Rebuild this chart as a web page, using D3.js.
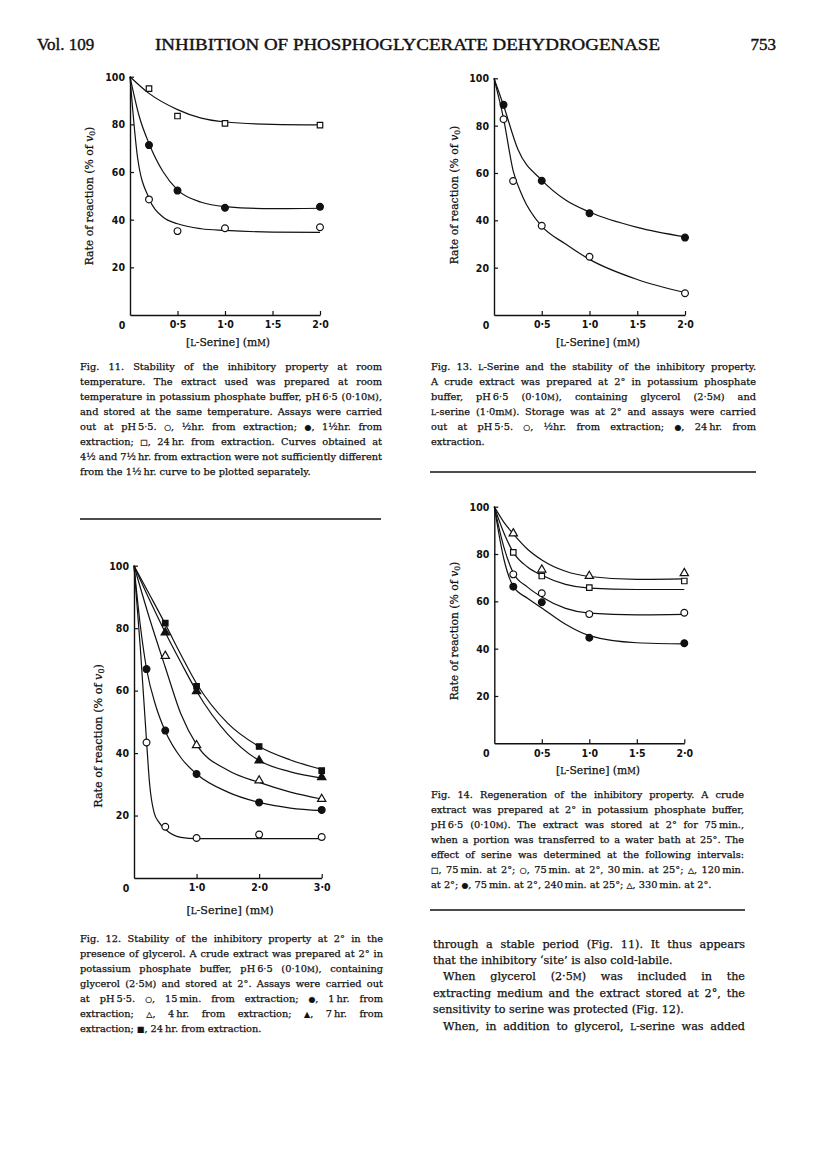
<!DOCTYPE html>
<html>
<head>
<meta charset="utf-8">
<script src="https://cdn.jsdelivr.net/npm/d3@7"></script>
<style>
  body { margin: 0; background: #fff; }
  svg { display: block; }
</style>
</head>
<body>
<svg id="page" width="816" height="1155"></svg>
<script>

// ---- Fig. 11 : stability at room temperature ----
var fig11Xticks = [0.5, 1.0, 1.5, 2.0];
var fig11HalfHr = [[0.2, 48.5], [0.5, 35.2], [1.0, 36.4], [2.0, 36.8]];        // open circles
var fig11OneHalfHr = [[0.2, 71.3], [0.5, 52.2], [1.0, 45.0], [2.0, 45.4]];     // filled circles
var fig11Day = [[0.2, 95.0], [0.5, 83.5], [1.0, 80.4], [2.0, 79.7]];           // open squares
var fig11HalfHrCurve = [[0, 100], [0.08, 66], [0.2, 49], [0.35, 41], [0.5, 38.3], [0.75, 36.2], [1.0, 35.5], [1.5, 34.8], [2.0, 34.7]];
var fig11OneHalfHrCurve = [[0, 100], [0.1, 83], [0.2, 72], [0.35, 60], [0.5, 52.5], [0.75, 47.3], [1.0, 45.5], [1.5, 44.6], [2.0, 44.8]];
var fig11DayCurve = [[0, 100], [0.2, 93], [0.5, 86.2], [0.75, 82.6], [1.0, 81], [1.5, 80], [2.0, 79.8]];

// ---- Fig. 13 : serine and stability ----
var fig13Xticks = [0.5, 1.0, 1.5, 2.0];
var fig13HalfHr = [[0.1, 82.7], [0.2, 56.6], [0.5, 37.7], [1.0, 24.6], [2.0, 9.2]];  // open circles
var fig13Day = [[0.1, 88.8], [0.5, 56.7], [1.0, 43.0], [2.0, 32.7]];               // filled circles
var fig13HalfHrCurve = [[0, 100], [0.1, 83], [0.2, 61], [0.3, 50], [0.5, 37.5], [0.75, 30], [1.0, 23.5], [1.5, 15], [2.0, 9.5]];
var fig13DayCurve = [[0, 100], [0.1, 88.5], [0.25, 70], [0.5, 57], [0.75, 48.6], [1.0, 43.5], [1.5, 37], [2.0, 33]];

// ---- Fig. 12 : stability at 2 deg with glycerol ----
var fig12Xticks = [1.0, 2.0, 3.0];
var fig12Min15 = [[0.2, 43.4], [0.5, 16.4], [1.0, 12.8], [2.0, 13.9], [3.0, 13.1]];  // open circles
var fig12Hr1 = [[0.2, 66.9], [0.5, 47.2], [1.0, 33.3], [2.0, 24.2], [3.0, 21.8]];    // filled circles
var fig12Hr4 = [[0.5, 71.1], [1.0, 42.5], [2.0, 31.2], [3.0, 25.3]];                 // open triangles
var fig12Hr7 = [[0.5, 78.6], [1.0, 59.8], [2.0, 37.6], [3.0, 32.3]];                 // filled triangles
var fig12Hr24 = [[0.5, 81.6], [1.0, 61.4], [2.0, 42.1], [3.0, 34.4]];                // filled squares
var fig12Min15Curve = [[0, 100], [0.1, 74], [0.2, 44], [0.25, 30], [0.32, 21], [0.4, 17.8], [0.5, 15.6], [0.75, 13], [1.0, 12.6], [2.0, 12.6], [3.0, 12.6]];
var fig12Hr1Curve = [[0, 100], [0.1, 81], [0.2, 67], [0.35, 55], [0.5, 47], [0.75, 38.5], [1.0, 33.3], [1.5, 27.5], [2.0, 24.2], [2.5, 22.4], [3.0, 21.6]];
var fig12Hr4Curve = [[0, 100], [0.25, 83], [0.5, 67.5], [0.75, 52.5], [1.0, 42.7], [1.5, 34.5], [2.0, 30.6], [2.5, 27.5], [3.0, 25.3]];
var fig12Hr7Curve = [[0, 100], [0.25, 89], [0.5, 78.6], [0.75, 69], [1.0, 59.8], [1.5, 46], [2.0, 37.6], [2.5, 34], [3.0, 32]];
var fig12Hr24Curve = [[0, 100], [0.25, 90.7], [0.5, 81.3], [0.75, 71.5], [1.0, 62.3], [1.5, 49.5], [2.0, 42.1], [2.5, 37.8], [3.0, 34.8]];

// ---- Fig. 14 : regeneration ----
var fig14Xticks = [0.5, 1.0, 1.5, 2.0];
var fig14Tri = [[0.2, 88.7], [0.5, 73.4], [1.0, 70.7], [2.0, 71.9]];      // open triangles
var fig14Sq = [[0.2, 80.7], [0.5, 70.7], [1.0, 65.8], [2.0, 68.6]];       // open squares
var fig14Open = [[0.2, 71.4], [0.5, 63.4], [1.0, 54.6], [2.0, 55.2]];     // open circles
var fig14Filled = [[0.2, 66.2], [0.5, 59.6], [1.0, 44.6], [2.0, 42.3]];   // filled circles
var fig14TriCurve = [[0, 100], [0.1, 93.5], [0.2, 88.5], [0.35, 82], [0.5, 77.5], [0.75, 72.7], [1.0, 70.5], [1.5, 69.3], [2.0, 69.5]];
var fig14SqCurve = [[0, 100], [0.1, 89], [0.2, 80.7], [0.35, 74.5], [0.5, 71], [0.75, 67.2], [1.0, 65.6], [1.5, 65], [2.0, 65]];
var fig14OpenCurve = [[0, 100], [0.1, 83], [0.2, 72], [0.35, 66], [0.5, 61.8], [0.75, 57], [1.0, 55], [1.5, 54.3], [2.0, 54.5]];
var fig14FilledCurve = [[0, 100], [0.1, 78], [0.2, 66.3], [0.35, 61.3], [0.5, 57.2], [0.75, 50.3], [1.0, 45.5], [1.5, 42.5], [2.0, 42]];

var yTicks = [20, 40, 60, 80, 100];

// ---- text ----
var cap11 = [
  "Fig. 11. Stability of the inhibitory property at room",
  "temperature. The extract used was prepared at room",
  "temperature in potassium phosphate buffer, pH\u20096·5 (0·10{M}),",
  "and stored at the same temperature. Assays were carried",
  "out at pH\u20095·5. ○, ½hr. from extraction; ●, 1½hr. from",
  "extraction; □, 24\u2009hr. from extraction. Curves obtained at",
  "4½ and 7½\u2009hr. from extraction were not sufficiently different",
  "from the 1½\u2009hr. curve to be plotted separately."
];
var cap13 = [
  "Fig. 13. {L}-Serine and the stability of the inhibitory property.",
  "A crude extract was prepared at 2° in potassium phosphate",
  "buffer, pH\u20096·5 (0·10{M}), containing glycerol (2·5{M}) and",
  "{L}-serine (1·0m{M}). Storage was at 2° and assays were carried",
  "out at pH\u20095·5. ○, ½hr. from extraction; ●, 24\u2009hr. from",
  "extraction."
];
var cap14 = [
  "Fig. 14. Regeneration of the inhibitory property. A crude",
  "extract was prepared at 2° in potassium phosphate buffer,",
  "pH\u20096·5 (0·10{M}). The extract was stored at 2° for 75\u2009min.,",
  "when a portion was transferred to a water bath at 25°. The",
  "effect of serine was determined at the following intervals:",
  "□, 75\u2009min. at 2°; ○, 75\u2009min. at 2°, 30\u2009min. at 25°; △, 120\u2009min.",
  "at 2°; ●, 75\u2009min. at 2°, 240\u2009min. at 25°; △, 330\u2009min. at 2°."
];
var cap12 = [
  "Fig. 12. Stability of the inhibitory property at 2° in the",
  "presence of glycerol. A crude extract was prepared at 2° in",
  "potassium phosphate buffer, pH\u20096·5 (0·10{M}), containing",
  "glycerol (2·5{M}) and stored at 2°. Assays were carried out",
  "at pH\u20095·5. ○, 15\u2009min. from extraction; ●, 1\u2009hr. from",
  "extraction; △, 4\u2009hr. from extraction; ▲, 7\u2009hr. from",
  "extraction; ■, 24\u2009hr. from extraction."
];
var bodyLines = [
  { text: "through a stable period (Fig. 11). It thus appears", indent: 0, justify: true },
  { text: "that the inhibitory \u2018site\u2019 is also cold-labile.", indent: 0, justify: false },
  { text: "When glycerol (2·5{M}) was included in the", indent: 10, justify: true },
  { text: "extracting medium and the extract stored at 2°, the", indent: 0, justify: true },
  { text: "sensitivity to serine was protected (Fig. 12).", indent: 0, justify: false },
  { text: "When, in addition to glycerol, {L}-serine was added", indent: 10, justify: true }
];

var serif = "'DejaVu Serif', 'Liberation Serif', serif";
var tickFont = "'Liberation Sans Narrow', 'DejaVu Sans Condensed', 'Liberation Sans', sans-serif";
var ink = "#111";
var svg = d3.select("#page");
svg.append("rect").attr("width", 816).attr("height", 1155).attr("fill", "#fff");

// small caps and symbols inside a line of text
function richLine(t, str) {
  str.split(/(\{[^}]*\}|[○●□△▲■])/).forEach(function (p) {
    if (!p) return;
    if (p[0] == "{") {
      t.append("tspan").attr("font-size", "0.78em").text(p.slice(1, -1));
    } else if ("○●□△▲■".indexOf(p) >= 0) {
      t.append("tspan").attr("font-family", "'DejaVu Sans'").attr("font-size", "0.8em").text(p);
    } else {
      t.append("tspan").text(p);
    }
  });
}

// justified block of lines (word spacing stretched to the column width)
function drawBlock(lines, opt) {
  lines.forEach(function (ln, i) {
    if (typeof ln == "string") {
      ln = { text: ln, indent: 0, justify: i < lines.length - 1 || !opt.lastFree };
    }
    var t = svg.append("text")
      .attr("x", opt.x + ln.indent)
      .attr("y", opt.y + i * opt.lh)
      .attr("font-family", serif)
      .attr("font-size", opt.size)
      .attr("fill", ink).attr("stroke", ink).attr("stroke-width", 0.25);
    richLine(t, ln.text);
    if (ln.justify) {
      var natural = t.node().getComputedTextLength();
      var spaces = (ln.text.match(/ /g) || []).length;
      if (spaces > 0) t.attr("word-spacing", (opt.width - ln.indent - natural) / spaces);
    }
  });
}

var symbolFor = {
  circle: d3.symbolCircle, square: d3.symbolSquare, triangle: d3.symbolTriangle
};
var symbolSize = { circle: 36, square: 30, triangle: 30 };

function fmtTick(d) { return d.toFixed(1).replace(".", "·"); }

function drawFigure(cfg) {
  var g = svg.append("g");
  var x = d3.scaleLinear().domain([0, cfg.xMax]).range([cfg.left, cfg.right]);
  var y = d3.scaleLinear().domain([0, 100]).range([cfg.bottom, cfg.top]);

  var xAxis = g.append("g")
    .attr("transform", "translate(0," + cfg.bottom + ")")
    .call(d3.axisBottom(x).tickValues(cfg.xTicks).tickSizeInner(-4).tickSizeOuter(0)
      .tickPadding(6).tickFormat(fmtTick));
  var yAxis = g.append("g")
    .attr("transform", "translate(" + cfg.left + ",0)")
    .call(d3.axisLeft(y).tickValues(yTicks).tickSizeInner(-4).tickSizeOuter(0)
      .tickPadding(5).tickFormat(d3.format("d")));

  [xAxis, yAxis].forEach(function (a) {
    a.select(".domain").attr("stroke", ink).attr("stroke-width", 1.4);
    a.selectAll(".tick line").attr("stroke", ink).attr("stroke-width", 1.2);
    a.selectAll("text").attr("font-family", tickFont).attr("font-weight", "bold")
      .attr("font-size", 10.5).attr("fill", ink);
  });

  g.append("text")
    .attr("x", cfg.left - 8).attr("y", cfg.bottom + 14)
    .attr("text-anchor", "middle")
    .attr("font-family", tickFont).attr("font-weight", "bold").attr("font-size", 10.5)
    .attr("fill", ink).text("0");

  var line = d3.line()
    .x(function (d) { return x(d[0]); })
    .y(function (d) { return y(d[1]); })
    .curve(d3.curveMonotoneX);

  cfg.series.forEach(function (s) {
    g.append("path").datum(s.curve)
      .attr("d", line).attr("fill", "none")
      .attr("stroke", ink).attr("stroke-width", 1.2);
  });
  cfg.series.forEach(function (s) {
    g.selectAll(null).data(s.points).enter().append("path")
      .attr("transform", function (d) { return "translate(" + x(d[0]) + "," + y(d[1]) + ")"; })
      .attr("d", d3.symbol().type(symbolFor[s.shape]).size(symbolSize[s.shape]))
      .attr("fill", s.filled ? ink : "#fff")
      .attr("stroke", ink).attr("stroke-width", 1.2);
  });

  // axis titles
  var yl = g.append("text")
    .attr("transform", "translate(" + cfg.yLabel[0] + "," + cfg.yLabel[1] + ") rotate(-90)")
    .attr("text-anchor", "middle")
    .attr("font-family", serif).attr("font-size", cfg.labelSize)
    .attr("fill", ink).attr("stroke", ink).attr("stroke-width", 0.25);
  yl.append("tspan").text("Rate of reaction (% of ");
  yl.append("tspan").attr("font-style", "italic").text("v");
  yl.append("tspan").attr("font-size", "0.7em").attr("dy", "0.3em").text("0");
  yl.append("tspan").attr("dy", "-0.21em").text(")");

  var xl = g.append("text")
    .attr("x", cfg.xLabel[0]).attr("y", cfg.xLabel[1])
    .attr("text-anchor", "middle")
    .attr("font-family", serif).attr("font-size", cfg.labelSize)
    .attr("fill", ink).attr("stroke", ink).attr("stroke-width", 0.25);
  richLine(xl, "[{L}-Serine] (m{M})");
}

// ---- page header ----
var headFont = "'Liberation Serif', serif";
svg.append("text").attr("x", 37).attr("y", 50)
  .attr("font-family", headFont).attr("font-size", 17)
  .attr("fill", ink).attr("stroke", ink).attr("stroke-width", 0.4)
  .text("Vol. 109");
svg.append("text").attr("x", 155).attr("y", 50)
  .attr("font-family", headFont).attr("font-size", 17)
  .attr("fill", ink).attr("stroke", ink).attr("stroke-width", 0.4)
  .attr("textLength", 505).attr("lengthAdjust", "spacingAndGlyphs")
  .text("INHIBITION OF PHOSPHOGLYCERATE DEHYDROGENASE");
svg.append("text").attr("x", 776).attr("y", 50).attr("text-anchor", "end")
  .attr("font-family", headFont).attr("font-size", 17)
  .attr("fill", ink).attr("stroke", ink).attr("stroke-width", 0.4)
  .text("753");

// ---- figures ----
drawFigure({
  left: 130, right: 320, top: 76.7, bottom: 315, xMax: 2, xTicks: fig11Xticks,
  yLabel: [93, 196], xLabel: [228, 346], labelSize: 10.8,
  series: [
    { points: fig11Day, curve: fig11DayCurve, shape: "square", filled: false },
    { points: fig11OneHalfHr, curve: fig11OneHalfHrCurve, shape: "circle", filled: true },
    { points: fig11HalfHr, curve: fig11HalfHrCurve, shape: "circle", filled: false }
  ]
});
drawFigure({
  left: 494, right: 685, top: 78.3, bottom: 315, xMax: 2, xTicks: fig13Xticks,
  yLabel: [458, 195], xLabel: [598, 346], labelSize: 10.8,
  series: [
    { points: fig13Day, curve: fig13DayCurve, shape: "circle", filled: true },
    { points: fig13HalfHr, curve: fig13HalfHrCurve, shape: "circle", filled: false }
  ]
});
drawFigure({
  left: 134, right: 321.7, top: 565.7, bottom: 878, xMax: 3, xTicks: fig12Xticks,
  yLabel: [102, 736], xLabel: [230, 914], labelSize: 11.2,
  series: [
    { points: fig12Hr24, curve: fig12Hr24Curve, shape: "square", filled: true },
    { points: fig12Hr7, curve: fig12Hr7Curve, shape: "triangle", filled: true },
    { points: fig12Hr4, curve: fig12Hr4Curve, shape: "triangle", filled: false },
    { points: fig12Hr1, curve: fig12Hr1Curve, shape: "circle", filled: true },
    { points: fig12Min15, curve: fig12Min15Curve, shape: "circle", filled: false }
  ]
});
drawFigure({
  left: 494.3, right: 684.3, top: 506.7, bottom: 743.3, xMax: 2, xTicks: fig14Xticks,
  yLabel: [458, 631], xLabel: [598, 774], labelSize: 10.8,
  series: [
    { points: fig14Tri, curve: fig14TriCurve, shape: "triangle", filled: false },
    { points: fig14Sq, curve: fig14SqCurve, shape: "square", filled: false },
    { points: fig14Open, curve: fig14OpenCurve, shape: "circle", filled: false },
    { points: fig14Filled, curve: fig14FilledCurve, shape: "circle", filled: true }
  ]
});

// ---- captions, rules and body text ----
drawBlock(cap11, { x: 80, y: 370, lh: 15.05, width: 302, size: 9.8, lastFree: true });
drawBlock(cap13, { x: 431, y: 369.5, lh: 15, width: 325, size: 9.8, lastFree: true });
drawBlock(cap14, { x: 431, y: 798, lh: 15, width: 313, size: 9.8, lastFree: true });
drawBlock(cap12, { x: 80, y: 941.5, lh: 15, width: 303, size: 9.8, lastFree: true });
drawBlock(bodyLines, { x: 433, y: 947.5, lh: 16.4, width: 312, size: 11.2 });

svg.append("line").attr("x1", 80).attr("x2", 381).attr("y1", 519).attr("y2", 519)
  .attr("stroke", ink).attr("stroke-width", 1.3);
svg.append("line").attr("x1", 430).attr("x2", 756).attr("y1", 472).attr("y2", 472)
  .attr("stroke", ink).attr("stroke-width", 1.3);
svg.append("line").attr("x1", 430).attr("x2", 745).attr("y1", 910).attr("y2", 910)
  .attr("stroke", ink).attr("stroke-width", 1.3);

</script>
</body>
</html>
